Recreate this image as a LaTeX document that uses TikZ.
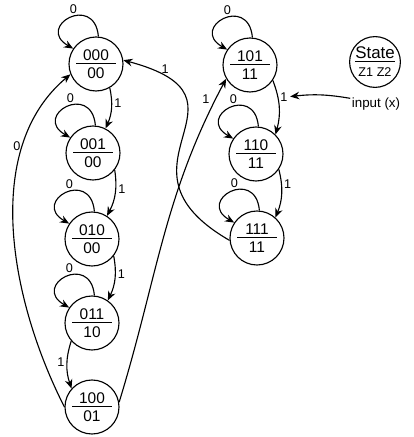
\documentclass[tikz,border=0pt]{standalone}
\usepackage{fontspec}
\setmainfont{Liberation Sans}
\usepackage{tikz}
\usetikzlibrary{arrows.meta, positioning, calc}
\tikzstyle{state} = [
    circle,
    draw=black,
    line width=0.8pt,
    minimum size=1.35cm,
    inner sep=0pt,
    align=center,
    font=\fontsize{11}{12.8}\selectfont,
    path picture={\draw[line width=0.7pt] ([xshift=-0.5cm,yshift=0.3pt]path picture bounding box.center) -- ([xshift=0.5cm,yshift=0.3pt]path picture bounding box.center);}
]
\tikzstyle{arrow} = [
    line width=0.8pt,
    -{Stealth[length=2.3mm, width=1.9mm]},
    color=black
]
\tikzstyle{edgelabel} = [
    font=\fontsize{9}{10}\selectfont,
    inner sep=1.5pt
]

\begin{document}
\begin{tikzpicture}
    \useasboundingbox (0,0) rectangle (10.325,10.925);
        % States
        \node[state] (s000) at (2.40, 9.325) {000\\00};
        \node[state] (s001) at (2.325, 7.10) {001\\00};
        \node[state] (s010) at (2.30, 4.95) {010\\00};
        \node[state] (s011) at (2.30, 2.85) {011\\10};
        \node[state] (s100) at (2.30, 0.75) {100\\01};
        \node[state] (s101) at (6.25, 9.30) {101\\11};
        \node[state] (s110) at (6.40, 7.075) {110\\11};
        \node[state] (s111) at (6.425, 4.975) {111\\11};

        % Key
        \node[state, minimum size=1.27cm] (key) at (9.375, 9.375) {{\fontsize{12}{12}\selectfont State}\\{\fontsize{9}{9}\selectfont Z1 Z2}};
        \node[font=\fontsize{9.5}{11}\selectfont, inner sep=1pt] (input) at (9.40, 8.325) {input (x)};

        % Loops on 0
        \foreach \s in {s000, s001, s010, s011, s101, s110, s111}
            \draw[arrow] (\s.85) .. controls +(95:1.1) and +(150:1.1) .. node[edgelabel, above, pos=0.45] {0} (\s.146);

        % Arrows on 1
        \draw[arrow] (s000.-60) to[bend left=18] node[edgelabel, right, pos=0.35] {1} (s001.63);
        \draw[arrow] (s001.-38) to[bend left=18] node[edgelabel, right, pos=0.4] {1} (s010.57);
        \draw[arrow] (s010.-38) to[bend left=18] node[edgelabel, right, pos=0.4] {1} (s011.55);
        \draw[arrow] (s011.-139) to[bend right=18] node[edgelabel, left, pos=0.45] {1} (s100.138);
        \draw[arrow] (s100.10) to[out=73, in=242] node[edgelabel, above left, pos=0.92] {1} (s101.210);
        \draw[arrow] (s101.-34) to[bend left=18] node[edgelabel, right, pos=0.3] (inlbl) {1} (s110.45);
        \draw[arrow] (s110.-34) to[bend left=18] node[edgelabel, right, pos=0.3] {1} (s111.48);
        \draw[arrow] (s111.185) .. controls +(150:3.75) and +(-15:3.75) .. node[edgelabel, above, pos=0.87] {1} (s000.8);

        % Back to start on 0
        \draw[arrow] (s100.180) to[out=117, in=220, looseness=0.9] node[edgelabel, left, pos=0.74] {0} (s000.202);

        % Input marker
        \draw[arrow] (input) to[bend right=8] (inlbl);
    \end{tikzpicture}
\end{document}
